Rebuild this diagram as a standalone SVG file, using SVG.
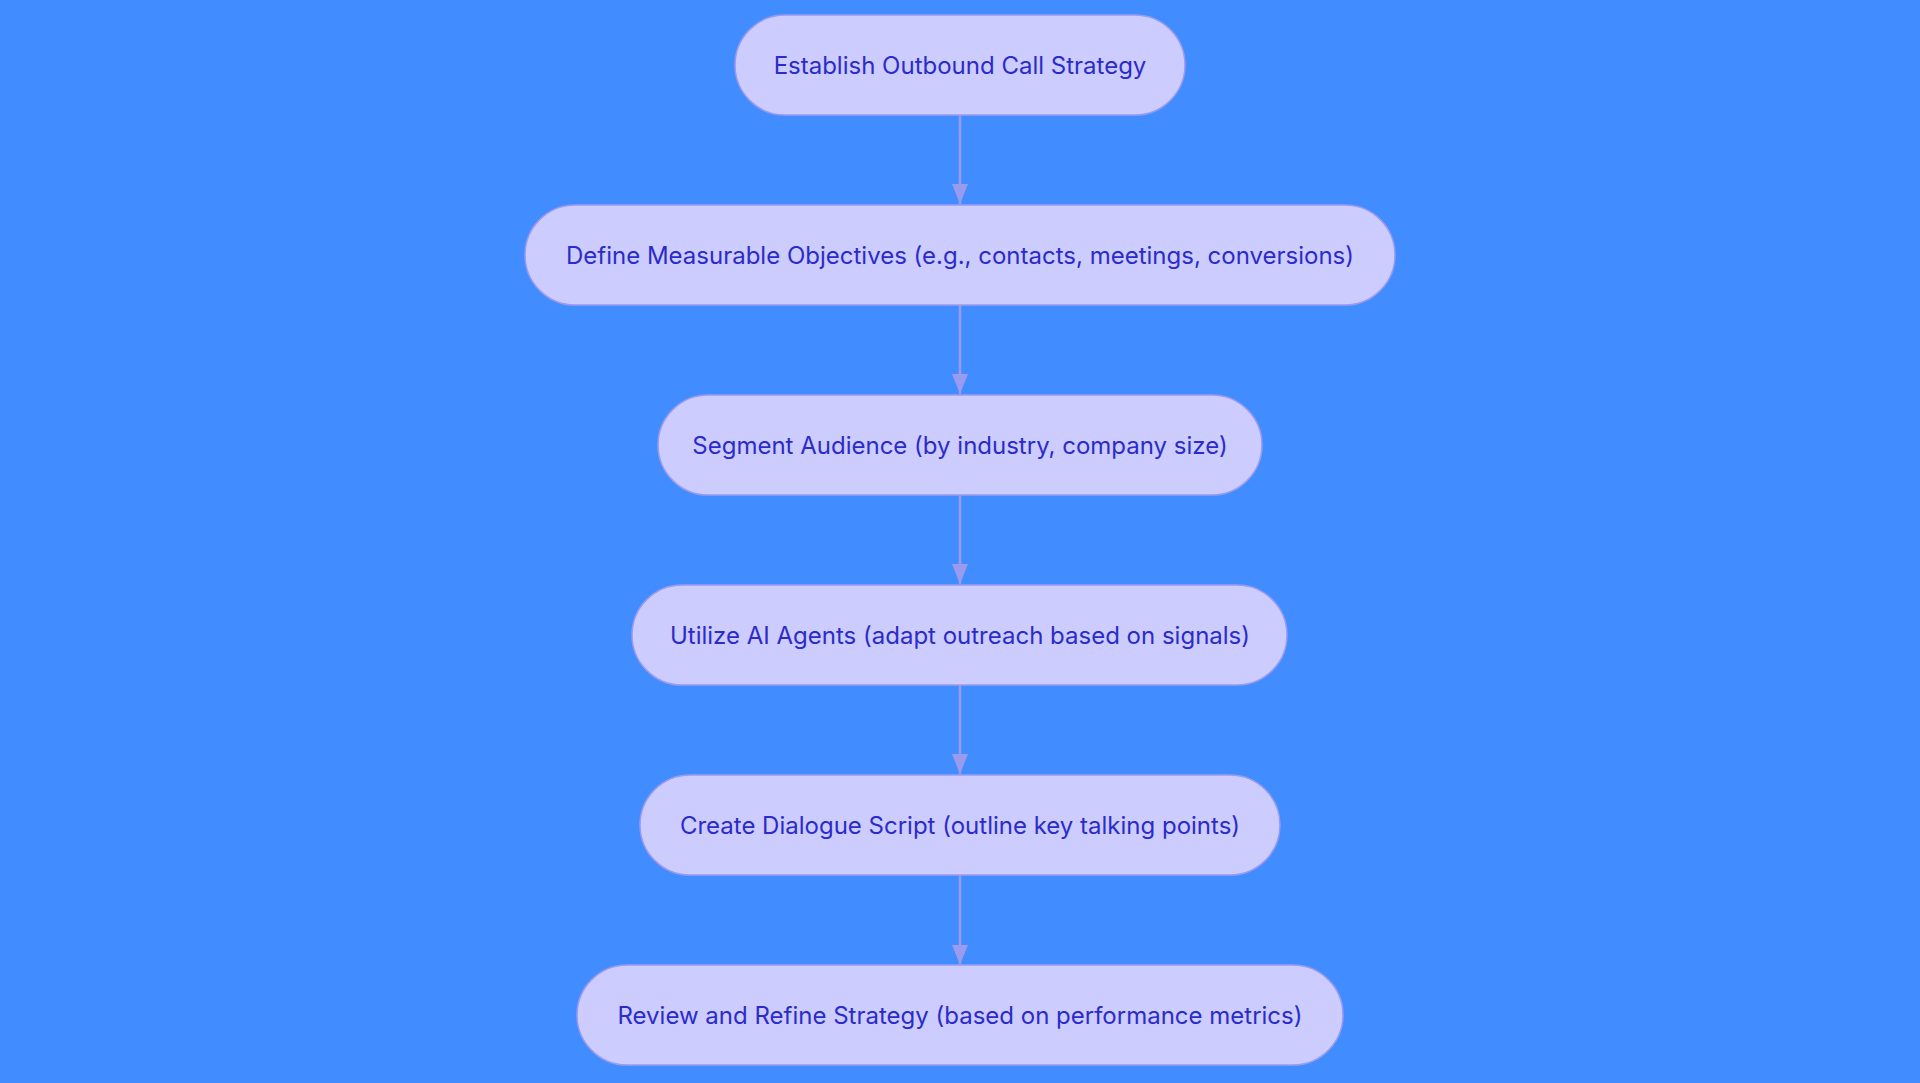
<svg xmlns="http://www.w3.org/2000/svg" width="1920" height="1083" viewBox="0 0 1920 1083">
<defs>
<style>
.n rect{fill:#CCCCFF;stroke:#9A9AEE;stroke-width:1.5}
.n text{font-family:Inter,"Noto Sans",sans-serif;font-size:24px;fill:#2B2BC9;text-anchor:middle;dominant-baseline:central}
.c line{stroke:#9A9AEE;stroke-width:2.5}
</style>
<marker id="a" viewBox="0 0 10 10" refX="10" refY="5" markerWidth="10" markerHeight="10" markerUnits="userSpaceOnUse" orient="auto"><path d="M0,0L10,5L0,10z" fill="#9A9AEE"/></marker>
</defs>
<rect width="1920" height="1083" fill="#418CFF"/>
<g class="c">
<line x1="960" y1="115" x2="960" y2="204" marker-end="url(#a)" style="marker-end:none"/>
<path d="M952,184L968,184L960,204z" fill="#9A9AEE"/>
<line x1="960" y1="305" x2="960" y2="394"/>
<path d="M952,374L968,374L960,394z" fill="#9A9AEE"/>
<line x1="960" y1="495" x2="960" y2="584"/>
<path d="M952,564L968,564L960,584z" fill="#9A9AEE"/>
<line x1="960" y1="684" x2="960" y2="774"/>
<path d="M952,754L968,754L960,774z" fill="#9A9AEE"/>
<line x1="960" y1="874" x2="960" y2="965"/>
<path d="M952,945L968,945L960,965z" fill="#9A9AEE"/>
</g>
<g id="n1" class="n"><rect x="735" y="15" width="450" height="100" rx="50"/><text x="960" y="65">Establish Outbound Call Strategy</text></g>
<g id="n2" class="n"><rect x="525" y="205" width="870" height="100" rx="50"/><text x="960" y="255">Define Measurable Objectives (e.g., contacts, meetings, conversions)</text></g>
<g id="n3" class="n"><rect x="658" y="395" width="604" height="100" rx="50"/><text x="960" y="445">Segment Audience (by industry, company size)</text></g>
<g id="n4" class="n"><rect x="632" y="585" width="655" height="100" rx="50"/><text x="960" y="635">Utilize AI Agents (adapt outreach based on signals)</text></g>
<g id="n5" class="n"><rect x="640" y="775" width="640" height="100" rx="50"/><text x="960" y="825">Create Dialogue Script (outline key talking points)</text></g>
<g id="n6" class="n"><rect x="577" y="965" width="766" height="100" rx="50"/><text x="960" y="1015">Review and Refine Strategy (based on performance metrics)</text></g>
</svg>
